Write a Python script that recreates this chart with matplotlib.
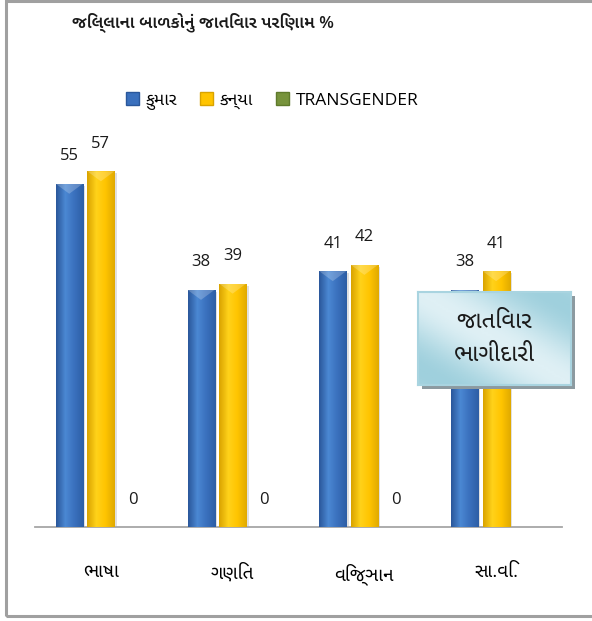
import matplotlib
matplotlib.use("Agg")
import matplotlib.pyplot as plt
import matplotlib.colors as mcolors
import numpy as np
from matplotlib import font_manager
from matplotlib.ft2font import FT2Font
from matplotlib.patches import Rectangle, Patch


subjects = ["ભાષા", "ગણિત", "વિજ્ઞાન", "સા.વિ."]
series_names = ["કુમાર", "કન્યા", "TRANSGENDER"]
boys = [55, 38, 41, 38]
girls = [57, 39, 42, 41]
transgender = [0, 0, 0, None]
title = "જિલ્લાના બાળકોનું જાતિવાર પરિણામ %"
box_text = "જાતિવાર\nભાગીદારી"


def find_gujarati_font():
    # installed fonts with Gujarati glyphs; proportional sans faces first
    found = []
    for path in font_manager.findSystemFonts():
        try:
            ft = FT2Font(path)
            if not (ft.get_char_index(ord("ક")) and ft.get_char_index(ord("ભ"))):
                continue
            name = font_manager.FontProperties(fname=path).get_name()
        except Exception:
            continue
        score = 0
        low = name.lower()
        if "mono" in low or "courier" in low:
            score -= 10
        if "sans" in low:
            score += 3
        if "serif" in low and "sans" not in low:
            score -= 2
        if "gujarati" in low:
            score += 2
        found.append((score, name))
    if not found:
        return None
    found.sort(key=lambda t: -t[0])
    return found[0][1]


guj = find_gujarati_font()
families = ["Open Sans"] + ([guj] if guj else []) + ["DejaVu Sans"]
plt.rcParams["font.family"] = families

W, H = 592, 621
fig = plt.figure(figsize=(W / 100, H / 100), dpi=100)

# outer frame
fig.patches.append(Rectangle((6 / W, (H - 616) / H), 1.2, 615 / H,
                             transform=fig.transFigure, fill=False,
                             edgecolor="#a0a0a0", linewidth=2.2))

ax = fig.add_axes([35 / W, (H - 527) / H, 527 / W, 374.4 / H])
ax.set_xlim(-0.5, 3.5)
ax.set_ylim(0, 60)
for s in ["top", "right", "left"]:
    ax.spines[s].set_visible(False)
ax.spines["bottom"].set_color("#a6a6a6")
ax.spines["bottom"].set_linewidth(1.3)
ax.set_yticks([])
ax.set_xticks(range(len(subjects)))
ax.set_xticklabels(subjects, fontsize=13.5)
ax.tick_params(axis="x", length=0, pad=26)

x = np.arange(len(subjects))
width = 0.205
offset = 0.24

grad_colors = {
    "blue": ["#2a579b", "#4b88d3", "#3a70bd", "#2d5ea5"],
    "yellow": ["#d9a300", "#ffd21a", "#ffc400", "#e0aa00"],
}


def shade_bar(bar, cols):
    # horizontal gradient clipped to the bar rectangle
    x0, y0 = bar.get_x(), bar.get_y()
    w, h = bar.get_width(), bar.get_height()
    if h <= 0:
        return
    cmap = mcolors.LinearSegmentedColormap.from_list("g", cols)
    grad = np.linspace(0, 1, 64).reshape(1, -1)
    im = ax.imshow(grad, cmap=cmap, extent=(x0, x0 + w, y0, y0 + h),
                   aspect="auto", zorder=3)
    im.set_clip_path(bar)
    # lighter cap at the top
    cap = min(1.6, h)
    ax.fill([x0, x0 + w, x0 + w / 2], [y0 + h, y0 + h, y0 + h - cap],
            color="white", alpha=0.22, zorder=4, lw=0)


def shadow(bars):
    for b in bars:
        ax.add_patch(Rectangle((b.get_x() + 0.018, 0), b.get_width(),
                               b.get_height() - 0.3, color="#000000",
                               alpha=0.12, zorder=2, lw=0))


b1 = ax.bar(x - offset, boys, width, color="#3a70bd", zorder=3)
b2 = ax.bar(x, girls, width, color="#ffc400", zorder=3)
tg = [v if v is not None else 0 for v in transgender]
b3 = ax.bar(x + offset, tg, width, color="#77933c", zorder=3)
shadow(b1)
shadow(b2)
for b in b1:
    shade_bar(b, grad_colors["blue"])
for b in b2:
    shade_bar(b, grad_colors["yellow"])

for bars, vals in [(b1, boys), (b2, girls), (b3, transgender)]:
    for b, v in zip(bars, vals):
        if v is None:
            continue
        ax.annotate(str(v), (b.get_x() + b.get_width() / 2, b.get_height()),
                    xytext=(0, 14), textcoords="offset points",
                    ha="center", va="bottom", fontsize=12, color="#1a1a1a",
                    zorder=5)

fig.text(72 / W, 1 - 22 / H, title, fontsize=12.3, fontweight="semibold",
         ha="left", va="center", color="#1a1a1a")

handles = [Patch(facecolor="#3a70bd", edgecolor="#2a579b"),
           Patch(facecolor="#ffc400", edgecolor="#d9a300"),
           Patch(facecolor="#77933c", edgecolor="#5f7a2c")]
fig.legend(handles, series_names, loc="center", ncol=3,
           bbox_to_anchor=(272 / W, 1 - 101 / H), frameon=False,
           prop={"size": 12.5}, handlelength=0.75, handleheight=0.75,
           handletextpad=0.4, columnspacing=1.3)

# callout box over the last group
bx, by, bw, bh = 418 / W, (H - 385) / H, 153 / W, 93 / H
sh = fig.add_axes([bx + 4 / W, by - 4 / H, bw, bh])
sh.set_facecolor("#8c9aa0")
sh.set_xticks([])
sh.set_yticks([])
for s in sh.spines.values():
    s.set_visible(False)
bax = fig.add_axes([bx, by, bw, bh])
gx, gy = np.meshgrid(np.linspace(0, 1, 80), np.linspace(0, 1, 50))
g = 0.5 + 0.5 * np.cos((gx - gy) * np.pi * 1.2)
cmap = mcolors.LinearSegmentedColormap.from_list("box", ["#9fd0dd", "#dff0f5"])
bax.imshow(g, cmap=cmap, extent=(0, 1, 0, 1), aspect="auto")
bax.set_xlim(0, 1)
bax.set_ylim(0, 1)
bax.set_xticks([])
bax.set_yticks([])
for s in bax.spines.values():
    s.set_color("#a9d4e0")
    s.set_linewidth(1.5)
bax.text(0.5, 0.5, box_text, ha="center", va="center", fontsize=17,
         linespacing=1.55, color="#1a1a1a")

fig.savefig("out.png", dpi=100)
